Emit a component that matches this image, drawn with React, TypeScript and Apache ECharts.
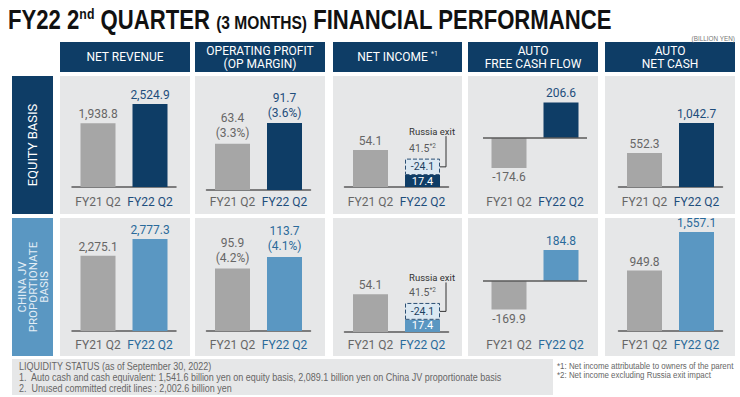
import React, { useEffect, useRef } from 'react';
import * as echarts from 'echarts';

// ---------- DATA ----------
const categories = ['FY21 Q2', 'FY22 Q2'];
const metricHeaders = ['NET REVENUE', 'OPERATING PROFIT\n(OP MARGIN)', 'NET INCOME', 'AUTO\nFREE CASH FLOW', 'AUTO\nNET CASH'];
const rowLabels = ['EQUITY BASIS', 'CHINA JV\nPROPORTIONATE\nBASIS'];

// Equity basis (billion yen)
const equityRevenue = [1938.8, 2524.9];
const equityOpProfit = [63.4, 91.7];
const equityOpMargin = [3.3, 3.6];
const equityNetIncome = [54.1, 17.4];
const equityRussiaExit = -24.1;
const equityFcf = [-174.6, 206.6];
const equityNetCash = [552.3, 1042.7];

// China JV proportionate basis (billion yen)
const jvRevenue = [2275.1, 2777.3];
const jvOpProfit = [95.9, 113.7];
const jvOpMargin = [4.2, 4.1];
const jvNetIncome = [54.1, 17.4];
const jvRussiaExit = -24.1;
const jvFcf = [-169.9, 184.8];
const jvNetCash = [949.8, 1557.1];

const footerLines = [
  'LIQUIDITY STATUS (as of September 30, 2022)',
  '1.  Auto cash and cash equivalent: 1,541.6 billion yen on equity basis, 2,089.1 billion yen on China JV proportionate basis',
  '2.  Unused committed credit lines : 2,002.6 billion yen',
];
const footnotes = ['*1: Net income attributable to owners of the parent', '*2: Net income excluding Russia exit impact'];

// ---------- STYLE / LAYOUT ----------
const DARK = '#0e3d66';
const LIGHT = '#5a97c2';
const GRAY = '#a6a6a6';
const PANEL_BG = '#e6e7e8';
const AXIS = '#5a5a5a';
const GRAY_TEXT = '#666666';
const ROW_TEXT = ['#1e4e7c', '#2a6a9a'];
const ROW_BAR = [DARK, LIGHT];
const FONT = 'Roboto, "Liberation Sans", sans-serif';
const SANS = '"Liberation Sans", Arial, sans-serif';

const PANEL_X = [60, 195, 333, 468, 605];
const PANEL_W = [130, 130, 129, 130, 130];
const GRID_LEFT = [72, 206.5, 344.5, 483, 618.5];
const GRID_W = 104;
const ROW_Y = [76, 218];
const PANEL_H = 138;
const AXIS_Y = [[187, 190, 187, 138, 187], [331, 331, 332, 281, 331]];
const PX_PER_UNIT = [[0.0329, 0.73, 0.684, 0.172, 0.0614], [0.0331, 0.651, 0.7, 0.168, 0.0636]];
const CAT_LABEL_Y = [202, 345];

type Panel = { kind: 'plain' | 'op' | 'ni' | 'fcf'; values: number[]; margins?: number[]; russia?: number };
const rows: Panel[][] = [
  [
    { kind: 'plain', values: equityRevenue },
    { kind: 'op', values: equityOpProfit, margins: equityOpMargin },
    { kind: 'ni', values: equityNetIncome, russia: equityRussiaExit },
    { kind: 'fcf', values: equityFcf },
    { kind: 'plain', values: equityNetCash },
  ],
  [
    { kind: 'plain', values: jvRevenue },
    { kind: 'op', values: jvOpProfit, margins: jvOpMargin },
    { kind: 'ni', values: jvNetIncome, russia: jvRussiaExit },
    { kind: 'fcf', values: jvFcf },
    { kind: 'plain', values: jvNetCash },
  ],
];

const fmt = (v: number) => v.toLocaleString('en-US', { minimumFractionDigits: 1, maximumFractionDigits: 1 });

function txt(x: number, y: number, text: string, font: string, fill: string, align = 'left', vAlign = 'middle', extra: any = {}) {
  return {
    type: 'text',
    x,
    y,
    z: 5,
    ...extra,
    style: { text, font, fill, align, verticalAlign: vAlign, textAlign: align, textVerticalAlign: vAlign, ...(extra.style || {}) },
  };
}

export default function App() {
  const ref = useRef<HTMLDivElement>(null);
  useEffect(() => {
    if (!ref.current) return;
    const chart = echarts.init(ref.current, undefined, { renderer: 'svg' });
    const grids: any[] = [];
    const xAxes: any[] = [];
    const yAxes: any[] = [];
    const series: any[] = [];
    const niInfo: { gi: number; total: number; mid: number; r: number }[] = [];

    rows.forEach((row, r) => {
      row.forEach((p, c) => {
        const gi = grids.length;
        const vals = p.values;
        const excl = p.kind === 'ni' ? vals[1] - (p.russia as number) : 0;
        const maxV = Math.max(0, ...vals, excl);
        const minV = Math.min(0, ...vals);
        const ppu = PX_PER_UNIT[r][c];
        const top = AXIS_Y[r][c] - maxV * ppu;
        const height = (maxV - minV) * ppu;
        grids.push({ left: GRID_LEFT[c], top, width: GRID_W, height, containLabel: false, outerBoundsMode: 'none' });
        const bottom = top + height;
        xAxes.push({
          type: 'category',
          gridIndex: gi,
          data: categories,
          axisLine: { show: p.kind !== 'fcf', onZero: false, lineStyle: { color: AXIS, width: 1.5 } },
          axisTick: { show: false },
          axisLabel: {
            interval: 0,
            hideOverlap: false,
            margin: CAT_LABEL_Y[r] - 6.5 - bottom,
            fontSize: 12,
            fontFamily: FONT,
            color: (_v: any, idx: number) => (idx === 0 ? GRAY_TEXT : ROW_TEXT[r]),
          },
        });
        yAxes.push({ type: 'value', gridIndex: gi, min: minV, max: maxV, show: false });

        const data = vals.map((v, k) => {
          const color = k === 0 ? GRAY_TEXT : ROW_TEXT[r];
          let label: any = {
            show: true,
            position: v < 0 ? 'bottom' : 'top',
            distance: 3,
            color,
            fontSize: 12,
            fontFamily: FONT,
            formatter: fmt(v),
          };
          if (p.kind === 'op') {
            label.formatter = `${fmt(v)}\n(${fmt((p.margins as number[])[k])}%)`;
            label.lineHeight = 15;
          }
          if (p.kind === 'ni' && k === 1) {
            label = { show: true, position: 'inside', color: '#ffffff', fontSize: 11, fontFamily: FONT, formatter: fmt(v) };
          }
          return { value: v, itemStyle: { color: k === 0 ? GRAY : ROW_BAR[r] }, label };
        });
        const bar: any = {
          type: 'bar',
          xAxisIndex: gi,
          yAxisIndex: gi,
          barWidth: 35,
          data,
        };
        if (p.kind === 'ni') bar.stack = 'ni' + gi;
        if (p.kind === 'fcf') {
          bar.markLine = {
            silent: true,
            symbol: 'none',
            label: { show: false },
            lineStyle: { color: AXIS, width: 1.5, type: 'solid' },
            data: [{ yAxis: 0 }],
          };
        }
        series.push(bar);

        if (p.kind === 'ni') {
          const russia = p.russia as number;
          series.push({
            type: 'bar',
            xAxisIndex: gi,
            yAxisIndex: gi,
            barWidth: 35,
            stack: 'ni' + gi,
            data: [
              '-',
              {
                value: -russia,
                itemStyle: { color: '#dbe8f2', borderColor: '#2b4f73', borderWidth: 1, borderType: 'dashed' },
                label: { show: true, position: 'inside', color: '#1d3f60', fontSize: 10.5, fontFamily: FONT, formatter: fmt(russia) },
              },
            ],
          });
          series.push({
            type: 'scatter',
            xAxisIndex: gi,
            yAxisIndex: gi,
            symbolSize: 1,
            itemStyle: { color: 'rgba(0,0,0,0)' },
            data: [[1, excl]],
            label: {
              show: true,
              position: 'top',
              distance: 3,
              formatter: `{v|${fmt(excl)}}{s|*2}`,
              rich: {
                v: { fontSize: 10.5, fontFamily: FONT, color: '#333333' },
                s: { fontSize: 6.5, fontFamily: FONT, color: '#333333', padding: [0, 0, 6, 0] },
              },
            },
          });
          niInfo.push({ gi, total: excl, mid: vals[1] - russia / 2, r });
        }
      });
    });

    chart.setOption({
      animation: false,
      grid: grids,
      xAxis: xAxes,
      yAxis: yAxes,
      series,
    });

    // ---------- decorations ----------
    const g: any[] = [];
    g.push({
      type: 'text',
      x: 8,
      y: 20,
      z: 5,
      scaleX: 0.82,
      style: {
        text: '{b|FY22 2}{sup|nd}{b| QUARTER }{s|(3 MONTHS)}{b| FINANCIAL PERFORMANCE}',
        align: 'left',
        verticalAlign: 'middle',
        textAlign: 'left',
        textVerticalAlign: 'middle',
        fill: '#111111',
        rich: {
          b: { fontSize: 27, fontWeight: 'bold', fontFamily: SANS, fill: '#111111', color: '#111111' },
          sup: { fontSize: 15, fontWeight: 'bold', fontFamily: SANS, fill: '#111111', color: '#111111', padding: [0, 0, 12, 0] },
          s: { fontSize: 19, fontWeight: 'bold', fontFamily: SANS, fill: '#111111', color: '#111111', padding: [5, 0, 0, 0] },
        },
      },
    });
    g.push(txt(735, 38, '(BILLION YEN)', `7.5px ${SANS}`, '#777777', 'right', 'middle', { scaleX: 0.85 }));

    metricHeaders.forEach((h, c) => {
      g.push({ type: 'rect', z: 1, shape: { x: PANEL_X[c], y: 42, width: PANEL_W[c], height: 30 }, style: { fill: DARK } });
      const cx = PANEL_X[c] + PANEL_W[c] / 2;
      if (c === 2) {
        g.push({
          type: 'text',
          x: cx,
          y: 57,
          z: 5,
          style: {
            text: `{a|${h} }{s|*1}`,
            align: 'center',
            verticalAlign: 'middle',
            textAlign: 'center',
            textVerticalAlign: 'middle',
            rich: {
              a: { fontSize: 12, fontFamily: FONT, fill: '#ffffff', color: '#ffffff' },
              s: { fontSize: 7, fontFamily: FONT, fill: '#ffffff', color: '#ffffff', padding: [0, 0, 6, 0] },
            },
          },
        });
      } else {
        g.push(txt(cx, 57, h, `12px ${FONT}`, '#ffffff', 'center', 'middle', { style: { lineHeight: 13 } }));
      }
    });

    rowLabels.forEach((lab, r) => {
      g.push({ type: 'rect', z: 1, shape: { x: 12, y: ROW_Y[r], width: 41, height: PANEL_H }, style: { fill: ROW_BAR[r] } });
      g.push(
        txt(32.5, ROW_Y[r] + PANEL_H / 2, lab, `${r === 0 ? 13 : 11.5}px ${FONT}`, r === 0 ? '#ffffff' : '#e4eef6', 'center', 'middle', {
          rotation: Math.PI / 2,
          style: { lineHeight: 11 },
        })
      );
      PANEL_X.forEach((px, c) => {
        g.push({ type: 'rect', z: -10, shape: { x: px, y: ROW_Y[r], width: PANEL_W[c], height: PANEL_H }, style: { fill: PANEL_BG } });
      });
    });

    // Russia exit callouts
    niInfo.forEach((n) => {
      const pTop = chart.convertToPixel({ gridIndex: n.gi } as any, [1, n.total]) as number[];
      const pMid = chart.convertToPixel({ gridIndex: n.gi } as any, [1, n.mid]) as number[];
      const right = pMid[0] + 17.5;
      const ty = pTop[1] - (n.r === 0 ? 27.5 : 25.5);
      g.push(txt(right + 15, ty, 'Russia exit', `9.5px ${FONT}`, '#333333', 'right'));
      g.push({
        type: 'polyline',
        z: 6,
        shape: { points: [[right + 6, ty + 5], [right + 6, pMid[1]], [right, pMid[1]]] },
        style: { stroke: '#333333', lineWidth: 1, fill: null },
      });
    });

    // footer
    g.push({ type: 'rect', z: 1, shape: { x: 12, y: 359, width: 541, height: 36 }, style: { fill: PANEL_BG } });
    footerLines.forEach((l, i) => g.push(txt(19, 366 + i * 11, l, `10px ${SANS}`, GRAY_TEXT, 'left', 'middle', { scaleX: 0.9 })));
    footnotes.forEach((l, i) => g.push(txt(557, 366 + i * 9, l, `9px ${SANS}`, GRAY_TEXT, 'left', 'middle', { scaleX: 0.88 })));

    chart.setOption({ graphic: { elements: g } });

    return () => chart.dispose();
  }, []);

  return <div ref={ref} style={{ position: 'absolute', left: 0, top: 0, width: 740, height: 397 }} />;
}
